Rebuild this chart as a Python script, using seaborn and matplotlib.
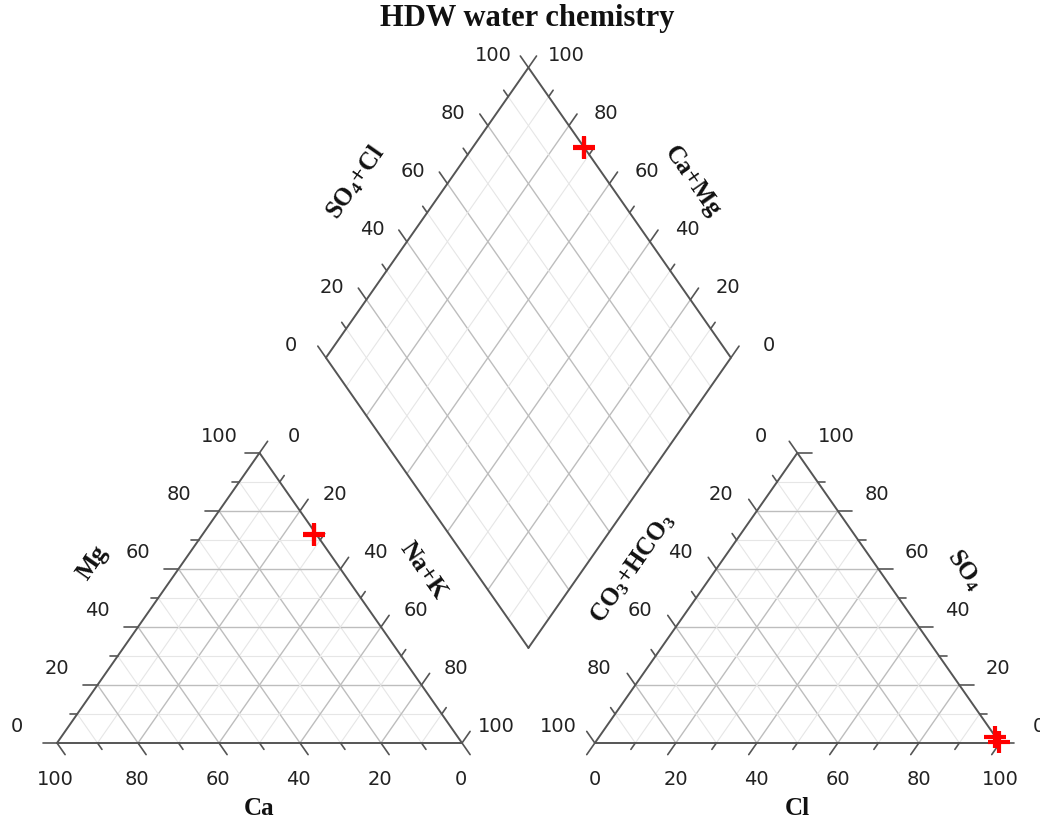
import numpy as np
import pandas as pd
import seaborn as sns
import matplotlib.pyplot as plt

# amostras (meq %)
amostras = ['HDW-1', 'HDW-2']
ca = [0.5, 0.8]
mg = [72.0, 71.7]
na_k = [27.5, 27.5]
hco3 = [0.0, 0.2]
so4 = [0.3, 2.2]
cl = [99.7, 97.6]

ticks = list(range(0, 101, 10))
titulo = 'HDW water chemistry'

sns.set_theme(style="white")
plt.rcParams['font.family'] = ['DejaVu Sans']
plt.rcParams['mathtext.fontset'] = 'custom'
plt.rcParams['mathtext.bf'] = 'Liberation Serif:bold'
plt.rcParams['mathtext.rm'] = 'Liberation Serif:bold'
plt.rcParams['mathtext.default'] = 'bf'

h = np.sqrt(3) / 2
g = 0.328                     # espaco entre os triangulos
B = np.array([1 + g / 2, g * h])  # vertice de baixo do losango
up_l = np.array([-0.5, h])
up_r = np.array([0.5, h])


def cat_xy(c, m, n):
    t = c + m + n
    return n / t + 0.5 * m / t, h * m / t


def an_xy(a, s, c):
    t = a + s + c
    return 1 + g + c / t + 0.5 * s / t, h * s / t


def dia_xy(camg, so4cl):
    p = B + camg * up_l + so4cl * up_r
    return p[0], p[1]


fig = plt.figure(figsize=(10.4, 8.18), dpi=100)
ax = fig.add_axes([0, 0, 1, 1])
ax.axis('off')

edge_kw = dict(color='#555555', lw=1.4, zorder=3)
tick_kw = dict(color='#555555', lw=1.2, zorder=3)


def grid_line(p, q, v):
    if v % 20 == 0:
        ax.plot([p[0], q[0]], [p[1], q[1]], color='#bdbdbd', lw=1.0, zorder=1)
    else:
        ax.plot([p[0], q[0]], [p[1], q[1]], color='#e6e6e6', lw=0.8, zorder=1)


# grade dos triangulos e losango
for v in ticks[1:-1]:
    f = v / 100
    # cations
    grid_line(cat_xy(1 - f, f, 0), cat_xy(0, f, 1 - f), v)
    grid_line(cat_xy(f, 1 - f, 0), cat_xy(f, 0, 1 - f), v)
    grid_line(cat_xy(0, 1 - f, f), cat_xy(1 - f, 0, f), v)
    # anions
    grid_line(an_xy(1 - f, f, 0), an_xy(0, f, 1 - f), v)
    grid_line(an_xy(f, 1 - f, 0), an_xy(f, 0, 1 - f), v)
    grid_line(an_xy(0, 1 - f, f), an_xy(1 - f, 0, f), v)
    # losango
    grid_line(dia_xy(f, 0), dia_xy(f, 1), v)
    grid_line(dia_xy(0, f), dia_xy(1, f), v)

# bordas
for pts in ([cat_xy(1, 0, 0), cat_xy(0, 0, 1), cat_xy(0, 1, 0), cat_xy(1, 0, 0)],
            [an_xy(1, 0, 0), an_xy(0, 0, 1), an_xy(0, 1, 0), an_xy(1, 0, 0)],
            [dia_xy(0, 0), dia_xy(1, 0), dia_xy(1, 1), dia_xy(0, 1), dia_xy(0, 0)]):
    xs, ys = zip(*pts)
    ax.plot(xs, ys, **edge_kw)


def eixo(pos, direc, offset, horizontal=False):
    d = np.array(direc, dtype=float)
    for v in ticks:
        p = np.array(pos(v / 100))
        if horizontal:
            k = 0.035 if v % 20 == 0 else 0.019
        else:
            k = 0.040 if v % 20 == 0 else 0.022
        q = p + k * d
        ax.plot([p[0], q[0]], [p[1], q[1]], **tick_kw)
        if v % 20 == 0:
            ax.annotate(str(v), xy=p, xytext=offset, textcoords='offset points',
                        ha='center', va='center', fontsize=14, color='#222222')


# eixos do triangulo de cations
eixo(lambda f: cat_xy(1 - f, f, 0), (-1, 0), (-29, 12), horizontal=True)        # Mg
eixo(lambda f: cat_xy(0, 1 - f, f), (0.5, h), (25, 12))                         # Na+K
eixo(lambda f: cat_xy(f, 0, 1 - f), (0.5, -h), (-1, -26))                       # Ca
# eixos do triangulo de anions
eixo(lambda f: an_xy(1 - f, 0, f), (-0.5, -h), (0, -26))                        # Cl
eixo(lambda f: an_xy(f, 1 - f, 0), (-0.5, h), (-26, 12))                        # CO3+HCO3
eixo(lambda f: an_xy(0, f, 1 - f), (1, 0), (28, 12), horizontal=True)           # SO4
# eixos do losango
eixo(lambda f: dia_xy(1, f), (-0.5, h), (-25, 9))                               # SO4+Cl
eixo(lambda f: dia_xy(f, 1), (0.5, h), (27, 9))                                 # Ca+Mg

# titulos dos eixos
lab_kw = dict(fontsize=18, fontfamily='Liberation Serif', fontweight='bold',
              ha='center', va='center', color='#111111')
ax.text(0.5, -0.195, 'Ca', **lab_kw)
ax.text(1.5 + g, -0.195, 'Cl', **lab_kw)
ax.text(0.25 - 0.161, h / 2 + 0.104, 'Mg', rotation=55, **lab_kw)
ax.text(0.75 + 0.154, h / 2 + 0.083, 'Na+K', rotation=-55, **lab_kw)
ax.text(1 + g + 0.25 - 0.156, h / 2 + 0.089, r'CO$_3$+HCO$_3$', rotation=55, **lab_kw)
ax.text(2 + g - 0.25 + 0.164, h / 2 + 0.083, r'SO$_4$', rotation=-55, **lab_kw)
mid_l = B + up_l + 0.5 * up_r
mid_r = B + up_r + 0.5 * up_l
ax.text(mid_l[0] - 0.176, mid_l[1] + 0.092, r'SO$_4$+Cl', rotation=55, **lab_kw)
ax.text(mid_r[0] + 0.154, mid_r[1] + 0.092, 'Ca+Mg', rotation=-55, **lab_kw)

ax.text(B[0] - 0.004, 2.164, titulo, fontsize=22, fontfamily='Liberation Serif',
        fontweight='bold', ha='center', va='center', color='#111111')

# pontos das amostras
df = pd.DataFrame({'amostra': amostras, 'Ca': ca, 'Mg': mg, 'NaK': na_k,
                   'HCO3': hco3, 'SO4': so4, 'Cl': cl})
pts = []
for _, r in df.iterrows():
    pts.append(cat_xy(r.Ca, r.Mg, r.NaK))
    pts.append(an_xy(r.HCO3, r.SO4, r.Cl))
    camg = (r.Ca + r.Mg) / (r.Ca + r.Mg + r.NaK)
    so4cl = (r.SO4 + r.Cl) / (r.HCO3 + r.SO4 + r.Cl)
    pts.append(dia_xy(camg, so4cl))
pts = pd.DataFrame(pts, columns=['x', 'y'])
sns.scatterplot(data=pts, x='x', y='y', marker='+', s=260, linewidth=3,
                color='red', ax=ax, zorder=5, legend=False)
ax.set_xlim(-57 / 405, (1040 - 57) / 405)
ax.set_ylim(-75 / 335, 743 / 335)
ax.axis('off')

fig.savefig('out.png', dpi=100)
